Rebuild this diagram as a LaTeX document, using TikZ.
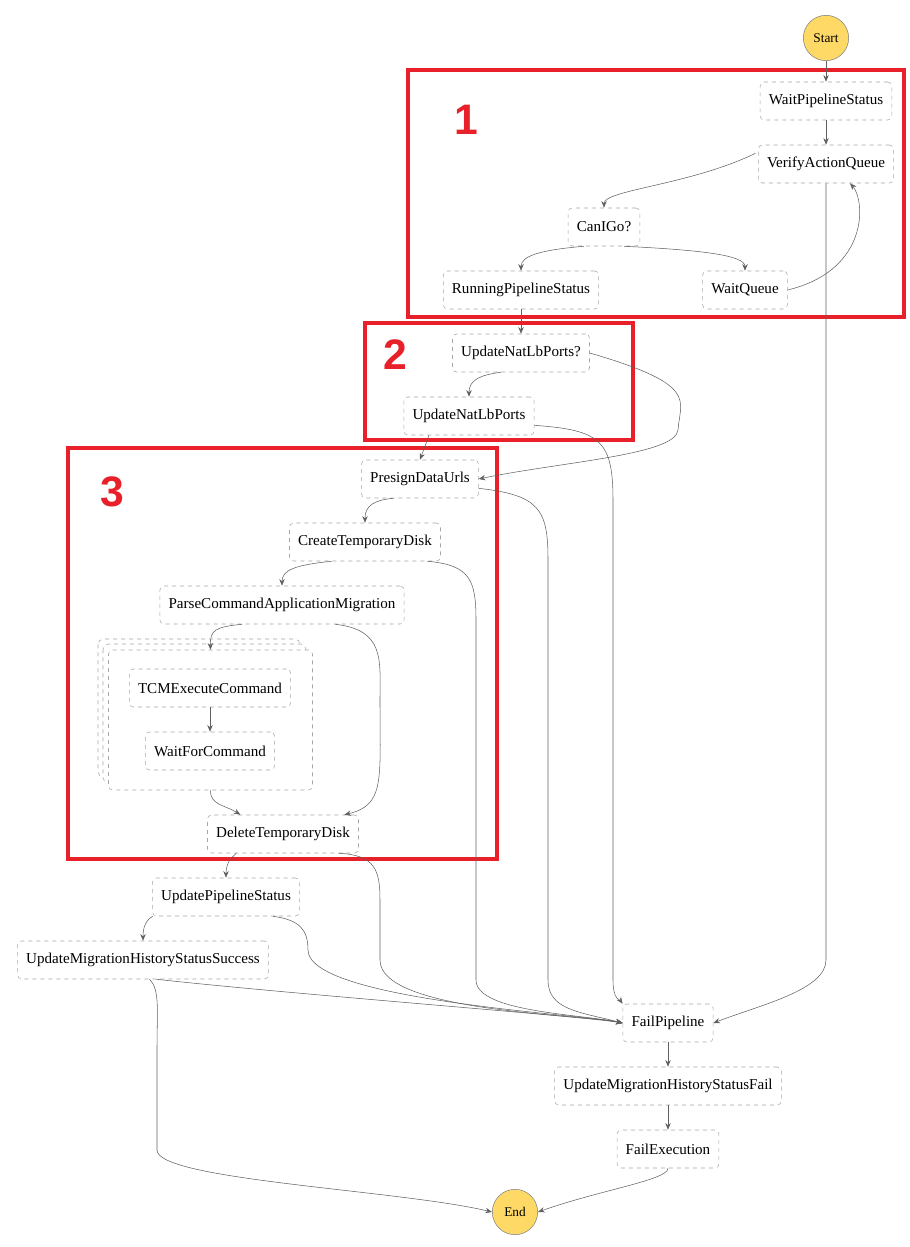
\documentclass[tikz,border=0pt]{standalone}
\usepackage{fontspec}
\setmainfont{Liberation Serif}
\newfontfamily\labelfont{Liberation Sans}
\usetikzlibrary{arrows.meta,positioning}
\definecolor{startfill}{HTML}{FFD966}
\definecolor{boxred}{HTML}{E8202A}
\definecolor{edgegray}{HTML}{606060}

\begin{document}
\begin{tikzpicture}[
  x=0.75pt, y=-0.75pt,
  state/.style={
    draw=gray!70,
    dashed,
    rounded corners=3pt,
    fill=white,
    minimum height=28.5pt,
    inner xsep=6.5pt,
    font=\fontsize{11.3}{13}\selectfont
    },
  terminal/.style={
    draw=gray,
    circle,
    fill=startfill,
    minimum size=34pt,
    inner sep=0pt,
    font=\fontsize{10}{12}\selectfont
    },
  flow/.style={draw=edgegray, -{Stealth[length=5pt,width=4pt]}},
  region/.style={draw=boxred, line width=2.5pt},
  regionlabel/.style={text=boxred, font=\labelfont\bfseries\fontsize{32}{34}\selectfont}
]
\useasboundingbox (0,0) rectangle (910,1247);

% red regions
\draw[region] (408,70) rectangle (904,317);
\draw[region] (365,323) rectangle (633,440);
\draw[region] (68,448) rectangle (497,859);
\node[regionlabel] (l1) at (466,120) {1};
\node[regionlabel] (l2) at (395,355) {2};
\node[regionlabel] (l3) at (112,492) {3};

% map container
\draw[state, rounded corners=4pt] (98,639) rectangle (300,777);
\draw[state, rounded corners=4pt] (103,644) rectangle (306,783);
\node[state, minimum width=153pt, minimum height=105pt] (map) at (210.5,720) {};

% states
\node[terminal] (start) at (826,38) {Start};
\node[state] (wps) at (826,101) {WaitPipelineStatus};
\node[state] (vaq) at (826,164) {VerifyActionQueue};
\node[state] (cig) at (604,227) {CanIGo?};
\node[state] (rps) at (521,290) {RunningPipelineStatus};
\node[state] (wq) at (745,290) {WaitQueue};
\node[state] (unq) at (521,353) {UpdateNatLbPorts?};
\node[state] (unp) at (469,416) {UpdateNatLbPorts};
\node[state] (pdu) at (420,479) {PresignDataUrls};
\node[state] (ctd) at (365,542) {CreateTemporaryDisk};
\node[state] (pcam) at (282,605) {ParseCommandApplicationMigration};
\node[state] (tcm) at (210,688) {TCMExecuteCommand};
\node[state] (wfc) at (210,751) {WaitForCommand};
\node[state] (dtd) at (283,834) {DeleteTemporaryDisk};
\node[state] (ups) at (226,897) {UpdatePipelineStatus};
\node[state] (umss) at (143,960) {UpdateMigrationHistoryStatusSuccess};
\node[state] (fp) at (668,1023) {FailPipeline};
\node[state] (umsf) at (668,1086) {UpdateMigrationHistoryStatusFail};
\node[state] (fe) at (668,1149) {FailExecution};
\node[terminal] (end) at (515,1212) {End};

% main path
\draw[flow] (start) -- (wps);
\draw[flow] (wps) -- (vaq);
\draw[flow] ([xshift=-2pt,yshift=8pt]vaq.west) .. controls (690,185) and (604,190) .. (cig.north);
\draw[flow] ([xshift=-15pt]cig.south) .. controls (540,250) and (521,256) .. (rps.north);
\draw[flow] ([xshift=15pt]cig.south) .. controls (700,250) and (745,255) .. (wq.north);
\draw[flow] (wq.east) .. controls (870,270) and (865,200) .. ([xshift=18pt]vaq.south);
\draw[flow] (rps) -- (unq);
\draw[flow] ([xshift=-15pt]unq.south) .. controls (480,375) and (469,380) .. (unp.north);
\draw[flow] (unq.east) .. controls (700,385) and (680,400) .. (678,430)
  .. controls (676,455) and (560,462) .. (pdu.east);
\draw[flow] ([xshift=-30pt]unp.south) -- (pdu.north);
\draw[flow] ([xshift=-20pt]pdu.south) .. controls (375,500) and (365,505) .. (ctd.north);
\draw[flow] ([xshift=-25pt]ctd.south) .. controls (295,565) and (282,570) .. (pcam.north);
\draw[flow] ([xshift=-30pt]pcam.south) .. controls (215,627) and (210,630) .. (map.north);
\draw[flow] (tcm) -- (wfc);
\draw[flow] (map.south) .. controls (210,805) and (225,805) .. ([xshift=-32pt]dtd.north);
\draw[flow] ([xshift=40pt]pcam.south) .. controls (385,630) and (380,660) .. (380,700)
  .. controls (380,780) and (385,805) .. ([xshift=46pt]dtd.north);
\draw[flow] ([xshift=-35pt]dtd.south) .. controls (235,855) and (226,860) .. (ups.north);
\draw[flow] ([xshift=-55pt]ups.south) .. controls (150,918) and (143,922) .. (umss.north);

% failure branches
\draw[flow] (vaq.south) .. controls (826,400) and (826,700) .. (826,960)
  .. controls (826,990) and (760,1005) .. (fp.east);
\draw[flow] ([yshift=-7pt]unp.east) .. controls (600,430) and (613,440) .. (613,500)
  -- (613,980) .. controls (613,1000) and (620,1000) .. (fp.north west);
\draw[flow] ([yshift=-7pt]pdu.east) .. controls (540,495) and (548,510) .. (548,560)
  -- (548,980) .. controls (548,1010) and (580,1012) .. (fp.west);
\draw[flow] ([xshift=-10pt]ctd.south east) .. controls (470,565) and (476,580) .. (476,620)
  -- (476,980) .. controls (476,1012) and (580,1014) .. (fp.west);
\draw[flow] ([xshift=-15pt]dtd.south east) .. controls (375,855) and (380,870) .. (380,900)
  -- (380,960) .. controls (380,1012) and (580,1014) .. (fp.west);
\draw[flow] ([xshift=-20pt]ups.south east) .. controls (300,920) and (308,930) .. (308,950)
  .. controls (308,1000) and (580,1014) .. (fp.west);
\draw[flow] ([xshift=10pt]umss.south) .. controls (300,995) and (580,1016) .. (fp.west);
\draw[flow] (fp) -- (umsf);
\draw[flow] (umsf) -- (fe);

% to end
\draw[flow] ([xshift=5pt]umss.south) .. controls (160,990) and (157,1010) .. (157,1050)
  -- (157,1150) .. controls (157,1180) and (400,1190) .. (end.west);
\draw[flow] (fe.south) .. controls (668,1180) and (600,1190) .. (end.east);
\end{tikzpicture}
\end{document}
